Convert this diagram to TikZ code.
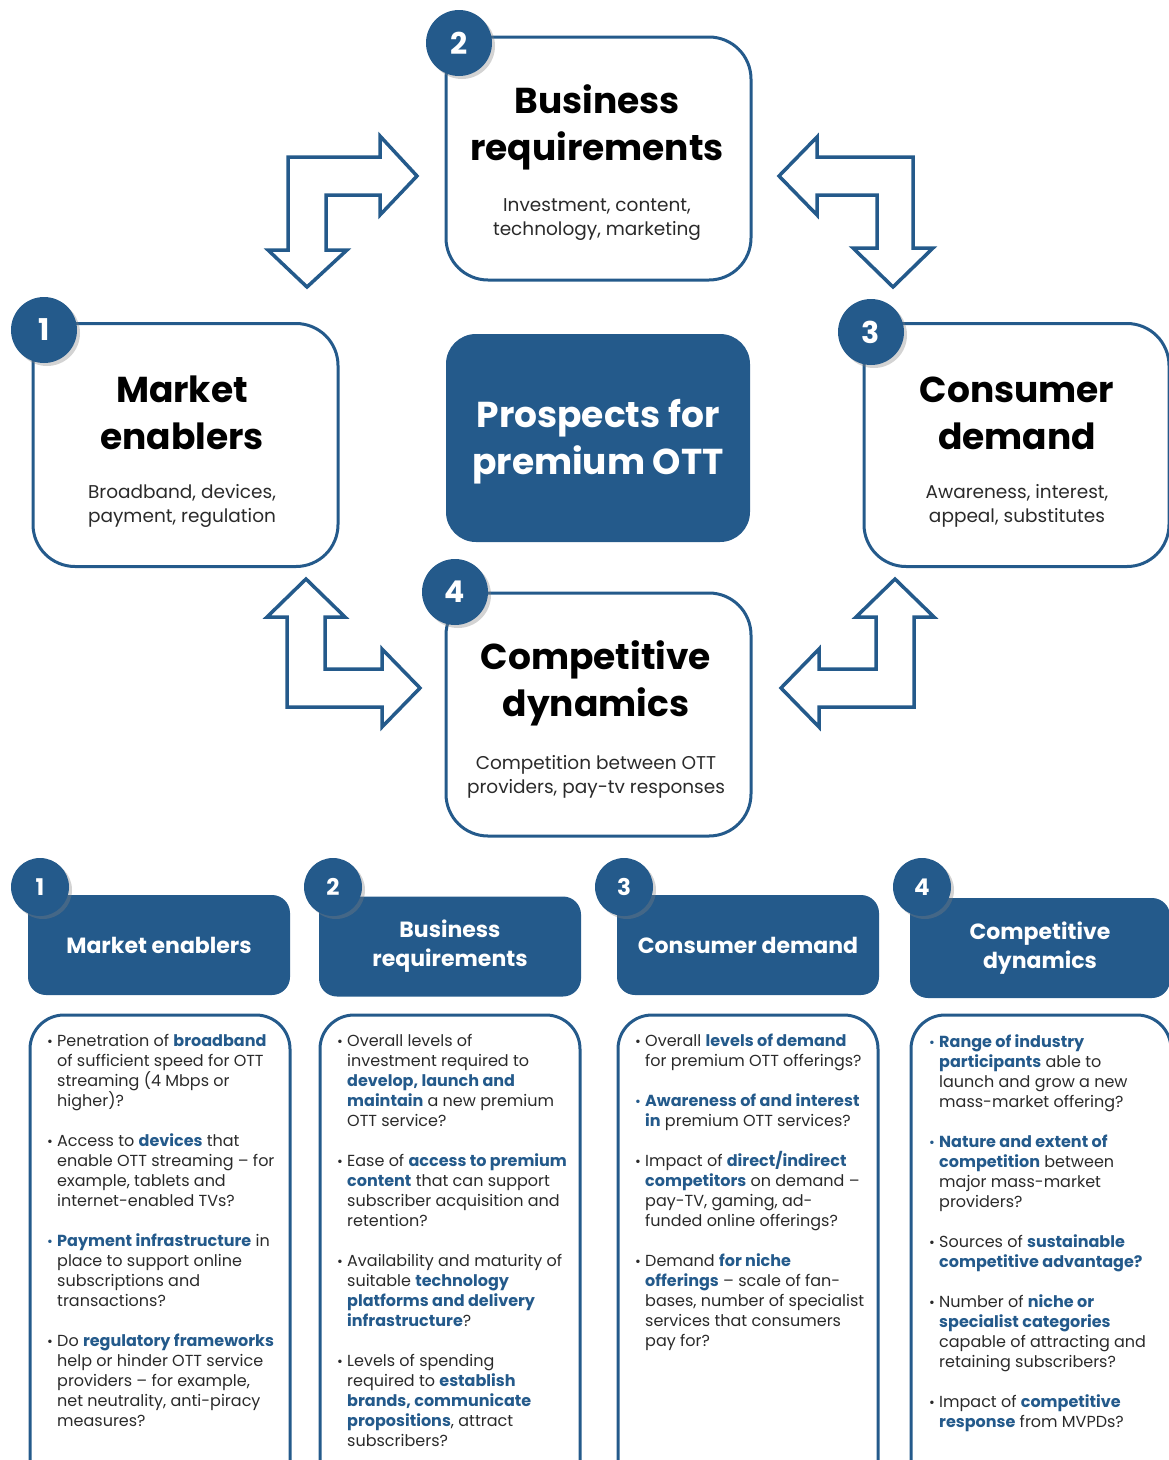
\documentclass[tikz,border=0pt]{standalone}
\usepackage{fontspec}
\setmainfont{Poppins}
\usetikzlibrary{shadows}

\definecolor{ottblue}{HTML}{245A8B}
\definecolor{ottgrey}{HTML}{2A2A2A}

\newcommand{\kw}[1]{\textbf{\color{ottblue}#1}}
\newcommand{\bul}{\makebox[10pt][l]{\fontsize{14}{14}\selectfont\textbullet}}
\newcommand{\bulk}{\makebox[10pt][l]{\fontsize{14}{14}\selectfont\color{ottblue}\textbullet}}
\newcommand{\ind}{\hspace*{10pt}}

\tikzset{
  bigbox/.style={draw=ottblue, line width=3pt, rounded corners=42pt,
    minimum width=305pt, minimum height=243pt},
  hubbox/.style={fill=ottblue, rounded corners=30pt,
    minimum width=304pt, minimum height=208pt},
  headbox/.style={fill=ottblue, rounded corners=18pt,
    minimum width=262pt, minimum height=100pt, text=white, align=center,
    font=\bfseries\fontsize{22}{29}\selectfont},
  listbox/.style={draw=ottblue, line width=3pt, rounded corners=34pt,
    minimum width=260pt, minimum height=480pt},
  bignum/.style={circle, fill=ottblue, minimum size=66pt, text=white,
    font=\bfseries\fontsize{30}{30}\selectfont,
    drop shadow={opacity=0.35, shadow xshift=3pt, shadow yshift=-3pt}},
  smallnum/.style={circle, fill=ottblue, minimum size=58pt, text=white,
    font=\bfseries\fontsize{23}{23}\selectfont,
    drop shadow={opacity=0.35, shadow xshift=3pt, shadow yshift=-3pt}},
  title/.style={align=center, text=black, font=\bfseries\fontsize{36}{47}\selectfont},
  subtitle/.style={align=center, text=ottgrey, font=\fontsize{18.5}{24}\selectfont},
  qlist/.style={anchor=north west, align=left, text=ottgrey, inner sep=0pt,
    font=\fontsize{16}{20}\selectfont},
  twoway/.style={draw=ottblue, line width=3.5pt, line join=miter, fill=white},
}

\begin{document}
\begin{tikzpicture}[x=1pt, y=-1pt]
\useasboundingbox (0,0) rectangle (1169,1460);
\clip (0,0) rectangle (1169,1460);

    % Top cycle
    \node[bigbox] (busbox) at (598.5,158.5) {};
    \node[bigbox] (mktbox) at (185.5,445) {};
    \node[bigbox] (conbox) at (1016.5,445) {};
    \node[bigbox] (compbox) at (598.5,714.5) {};
    \node[hubbox] (hub) at (598,438) {};

    \node[title] (bustitle) at (597,127) {Business\\requirements};
    \node[subtitle] (bussub) at (597,220) {Investment, content,\\technology, marketing};
    \node[title] (mkttitle) at (182,413) {Market\\enablers};
    \node[subtitle] (mktsub) at (182,506) {Broadband, devices,\\payment, regulation};
    \node[title] (contitle) at (1017,413) {Consumer\\demand};
    \node[subtitle] (consub) at (1017,506) {Awareness, interest,\\appeal, substitutes};
    \node[title] (comptitle) at (596,683) {Competitive\\dynamics};
    \node[subtitle] (compsub) at (596,777) {Competition between OTT\\providers, pay-tv responses};
    \node[title, text=white] (hubtitle) at (598,442) {Prospects for\\premium OTT};

    \node[bignum] (n2) at (459,43) {2};
    \node[bignum] (n1) at (44,330) {1};
    \node[bignum] (n3) at (871,332) {3};
    \node[bignum] (n4) at (455,592) {4};

    % two-way arrows
    \draw[twoway] (288,157) -- (380,157) -- (380,136) -- (417,176) -- (380,215) -- (380,195)
      -- (326,195) -- (326,250) -- (347,250) -- (307,287) -- (268,250) -- (288,250) -- cycle;
    \draw[twoway] (913,157) -- (817,157) -- (817,137) -- (779,176) -- (817,215) -- (817,195)
      -- (877,195) -- (877,248) -- (853,248) -- (893,287) -- (933,248) -- (913,248) -- cycle;
    \draw[twoway] (306,579) -- (345,617) -- (325,617) -- (325,669) -- (382,669) -- (382,649)
      -- (420,688) -- (382,727) -- (382,707) -- (287,707) -- (287,617) -- (267,617) -- cycle;
    \draw[twoway] (895,579) -- (856,617) -- (876,617) -- (876,669) -- (819,669) -- (819,649)
      -- (781,688) -- (819,727) -- (819,707) -- (914,707) -- (914,617) -- (934,617) -- cycle;

    % Detail columns
    \node[headbox] (mkthead) at (159,945) {Market enablers};
    \node[headbox] (bushead) at (450,946.5) {Business\\requirements};
    \node[headbox] (conhead) at (748,945) {Consumer demand};
    \node[headbox, minimum width=260pt] (comphead) at (1040,948) {Competitive\\dynamics};

    \node[smallnum] (s1) at (40,887) {1};
    \node[smallnum] (s2) at (333,887) {2};
    \node[smallnum] (s3) at (624,887) {3};
    \node[smallnum] (s4) at (922,887) {4};

    \node[listbox] (mktlist) at (160,1255) {};
    \node[listbox] (buslist) at (450,1255) {};
    \node[listbox] (conlist) at (748,1255) {};
    \node[listbox] (complist) at (1041,1255) {};

    \node[qlist] (mktq) at (47,1034) {%
      \bul Penetration of \kw{broadband}\\
      \ind of sufficient speed for OTT\\
      \ind streaming (4 Mbps or\\
      \ind higher)?\\[20pt]
      \bul Access to \kw{devices} that\\
      \ind enable OTT streaming -- for\\
      \ind example, tablets and\\
      \ind internet-enabled TVs?\\[20pt]
      \bulk \kw{Payment infrastructure} in\\
      \ind place to support online\\
      \ind subscriptions and\\
      \ind transactions?\\[20pt]
      \bul Do \kw{regulatory frameworks}\\
      \ind help or hinder OTT service\\
      \ind providers -- for example,\\
      \ind net neutrality, anti-piracy\\
      \ind measures?};

    \node[qlist] (busq) at (337,1034) {%
      \bul Overall levels of\\
      \ind investment required to\\
      \ind \kw{develop, launch and}\\
      \ind \kw{maintain} a new premium\\
      \ind OTT service?\\[20pt]
      \bul Ease of \kw{access to premium}\\
      \ind \kw{content} that can support\\
      \ind subscriber acquisition and\\
      \ind retention?\\[20pt]
      \bul Availability and maturity of\\
      \ind suitable \kw{technology}\\
      \ind \kw{platforms and delivery}\\
      \ind \kw{infrastructure}?\\[20pt]
      \bul Levels of spending\\
      \ind required to \kw{establish}\\
      \ind \kw{brands, communicate}\\
      \ind \kw{propositions}, attract\\
      \ind subscribers?};

    \node[qlist] (conq) at (635,1034) {%
      \bul Overall \kw{levels of demand}\\
      \ind for premium OTT offerings?\\[20pt]
      \bulk \kw{Awareness of and interest}\\
      \ind \kw{in} premium OTT services?\\[20pt]
      \bul Impact of \kw{direct/indirect}\\
      \ind \kw{competitors} on demand --\\
      \ind pay-TV, gaming, ad-\\
      \ind funded online offerings?\\[20pt]
      \bul Demand \kw{for niche}\\
      \ind \kw{offerings} -- scale of fan-\\
      \ind bases, number of specialist\\
      \ind services that consumers\\
      \ind pay for?};

    \node[qlist] (compq) at (929,1034) {%
      \bulk \kw{Range of industry}\\
      \ind \kw{participants} able to\\
      \ind launch and grow a new\\
      \ind mass-market offering?\\[20pt]
      \bulk \kw{Nature and extent of}\\
      \ind \kw{competition} between\\
      \ind major mass-market\\
      \ind providers?\\[20pt]
      \bul Sources of \kw{sustainable}\\
      \ind \kw{competitive advantage?}\\[20pt]
      \bul Number of \kw{niche or}\\
      \ind \kw{specialist categories}\\
      \ind capable of attracting and\\
      \ind retaining subscribers?\\[20pt]
      \bul Impact of \kw{competitive}\\
      \ind \kw{response} from MVPDs?};
\end{tikzpicture}
\end{document}
